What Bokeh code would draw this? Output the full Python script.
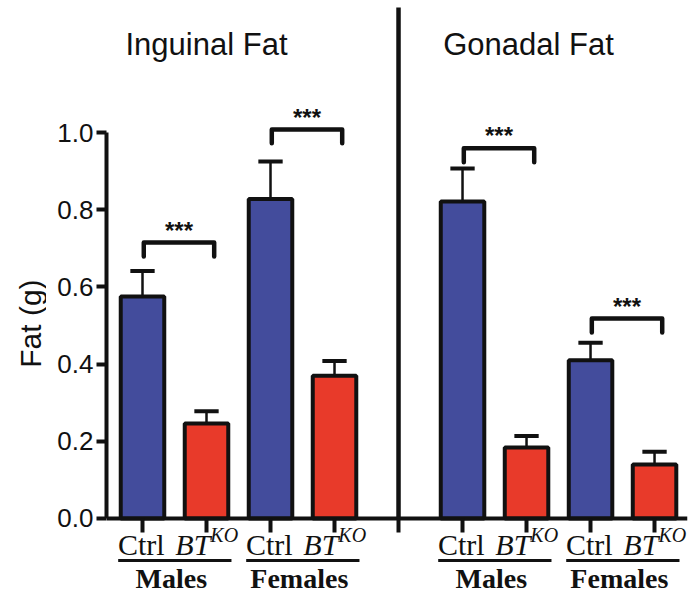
import math
from bokeh.plotting import figure
from bokeh.layouts import row
from bokeh.models import FixedTicker, LinearAxis, Range1d, ColumnDataSource, PrintfTickFormatter
from bokeh.core.properties import value
from bokeh.embed import file_html
from bokeh.resources import INLINE

# ---- data ----
panels = ["Inguinal Fat", "Gonadal Fat"]
sexes = ["Males", "Females"]
genotypes = ["Ctrl", "BT", "Ctrl", "BT"]
means = [0.575, 0.246, 0.828, 0.370, 0.821, 0.184, 0.410, 0.140]
sems = [0.066, 0.032, 0.097, 0.038, 0.086, 0.030, 0.045, 0.033]
bracket_y = [0.715, 1.008, 0.959, 0.518]
sig_labels = ["***", "***", "***", "***"]
y_ticks = [0.0, 0.2, 0.4, 0.6, 0.8, 1.0]
y_title = "Fat (g)"

BLUE = "#434c9c"
RED = "#e83a2a"
INK = "#111111"

# bar positions: two panels of four bars, one slot gap between panels
xpos = [i + (1 if i >= 4 else 0) for i in range(len(means))]
colors = [BLUE if i % 2 == 0 else RED for i in range(len(means))]
divider_x = 4
Y_TOP = 1.342
Y_BOT = -0.1969
ADJ = 0.023  # text baseline correction
LEFT_W = 46

yr = Range1d(Y_BOT, Y_TOP)

# narrow strip holding the y-axis title
lf = figure(width=LEFT_W, height=594, output_backend="svg", toolbar_location=None,
            x_range=Range1d(0, 1), y_range=yr,
            min_border_left=0, min_border_right=0, min_border_top=0, min_border_bottom=0,
            x_axis_location=None, y_axis_location=None)
lf.xgrid.visible = False
lf.ygrid.visible = False
lf.outline_line_color = None
lf.text(x=[0.66], y=[0.505], text=[y_title], angle=math.pi / 2,
        text_font=value("Liberation Sans"), text_font_size="30px", text_color=INK,
        text_align="center", text_baseline="middle")

p = figure(width=691 - LEFT_W, height=594, output_backend="svg", toolbar_location=None,
           x_range=Range1d(-0.5625, 8.515), y_range=yr,
           min_border_left=106 - LEFT_W, min_border_right=4, min_border_top=0, min_border_bottom=0,
           x_axis_location=None, y_axis_location=None)
p.xgrid.visible = False
p.ygrid.visible = False
p.outline_line_color = None
p.background_fill_color = "white"

# y axis
yax = LinearAxis(bounds=(0, 1.0), ticker=FixedTicker(ticks=y_ticks),
                 formatter=PrintfTickFormatter(format="%.1f"))
yax.axis_line_width = 4
yax.axis_line_color = INK
yax.major_tick_line_width = 4
yax.major_tick_line_color = INK
yax.major_tick_out = 10
yax.major_tick_in = 0
yax.minor_tick_line_color = None
yax.major_label_text_font = "Liberation Sans"
yax.major_label_text_font_size = "26px"
yax.major_label_text_color = INK
yax.major_label_standoff = 3
p.add_layout(yax, "left")

# x axis at y = 0 (tick marks only; labels drawn below as styled text)
xticks = xpos + [divider_x]
xax = LinearAxis(fixed_location=0, ticker=FixedTicker(ticks=xticks),
                 major_label_overrides={t: "" for t in xticks})
xax.axis_line_width = 4
xax.axis_line_color = INK
xax.major_tick_line_width = 4
xax.major_tick_line_color = INK
xax.major_tick_out = 14
xax.major_tick_in = 0
xax.minor_tick_line_color = None
xax.major_label_standoff = 0
p.add_layout(xax, "below")

# panel divider
p.segment(x0=[divider_x], y0=[0], x1=[divider_x], y1=[1.324], line_width=4.5, line_color=INK)

# error bars
tops = [m + s for m, s in zip(means, sems)]
p.segment(x0=xpos, y0=means, x1=xpos, y1=tops, line_width=2.5, line_color=INK)
p.segment(x0=[x - 0.19 for x in xpos], y0=tops, x1=[x + 0.19 for x in xpos], y1=tops,
          line_width=4, line_color=INK)

# bars
src = ColumnDataSource(dict(x=xpos, top=means, color=colors))
p.vbar(x="x", top="top", bottom=0, width=0.68, source=src, fill_color="color",
       line_color=INK, line_width=4)

# significance brackets
ctrl_x = [xpos[0], xpos[2], xpos[4], xpos[6]]
bx0 = [c + 0.02 for c in ctrl_x]
bx1 = [c + 1.12 for c in ctrl_x]
xs = [[a, a, b, b] for a, b in zip(bx0, bx1)]
ys = [[y - 0.036, y, y, y - 0.036] for y in bracket_y]
p.multi_line(xs=xs, ys=ys, line_width=4.5, line_color=INK, line_join="round", line_cap="round")
p.text(x=[(a + b) / 2 for a, b in zip(bx0, bx1)], y=[y + 0.032 for y in bracket_y], text=sig_labels,
       text_font=value("Liberation Sans"), text_font_size="24px", text_font_style="bold",
       text_align="center", text_baseline="alphabetic", text_color=INK)

# panel titles
p.text(x=[1.0, 6.03], y=[1.2047 + ADJ] * 2, text=panels,
       text_font=value("Liberation Sans"), text_font_size="31px",
       text_align="center", text_baseline="alphabetic", text_color=INK)

# genotype labels
ctrl_lab_x = [x - 0.02 for x, g in zip(xpos, genotypes * 2) if g == "Ctrl"]
bt_lab_x = [x + 0.06 for x, g in zip(xpos, genotypes * 2) if g == "BT"]
LAB_Y = -0.091 + ADJ
p.text(x=ctrl_lab_x, y=[LAB_Y] * len(ctrl_lab_x), text=["Ctrl"] * len(ctrl_lab_x),
       text_font=value("Liberation Serif"), text_font_size="30px",
       text_align="center", text_baseline="alphabetic", text_color=INK)
p.text(x=bt_lab_x, y=[LAB_Y] * len(bt_lab_x), text=["BT"] * len(bt_lab_x),
       text_font=value("Liberation Serif"), text_font_size="30px", text_font_style="italic",
       text_align="right", text_baseline="alphabetic", text_color=INK)
p.text(x=bt_lab_x, y=[LAB_Y + 0.026] * len(bt_lab_x), text=["KO"] * len(bt_lab_x),
       text_font=value("Liberation Serif"), text_font_size="20px", text_font_style="italic",
       text_align="left", text_baseline="alphabetic", text_color=INK)

# sex group labels with rules
grp_start = [xpos[0], xpos[2], xpos[4], xpos[6]]
p.segment(x0=[g - 0.38 for g in grp_start], y0=[-0.109] * 4,
          x1=[g + 1.39 for g in grp_start], y1=[-0.109] * 4, line_width=3, line_color=INK)
p.text(x=[g + 0.45 for g in grp_start], y=[-0.179 + ADJ] * 4, text=sexes * 2,
       text_font=value("Liberation Serif"), text_font_size="28px", text_font_style="bold",
       text_align="center", text_baseline="alphabetic", text_color=INK)

layout = row(lf, p, spacing=0)
open("out.html", "w").write(file_html(layout, INLINE))
